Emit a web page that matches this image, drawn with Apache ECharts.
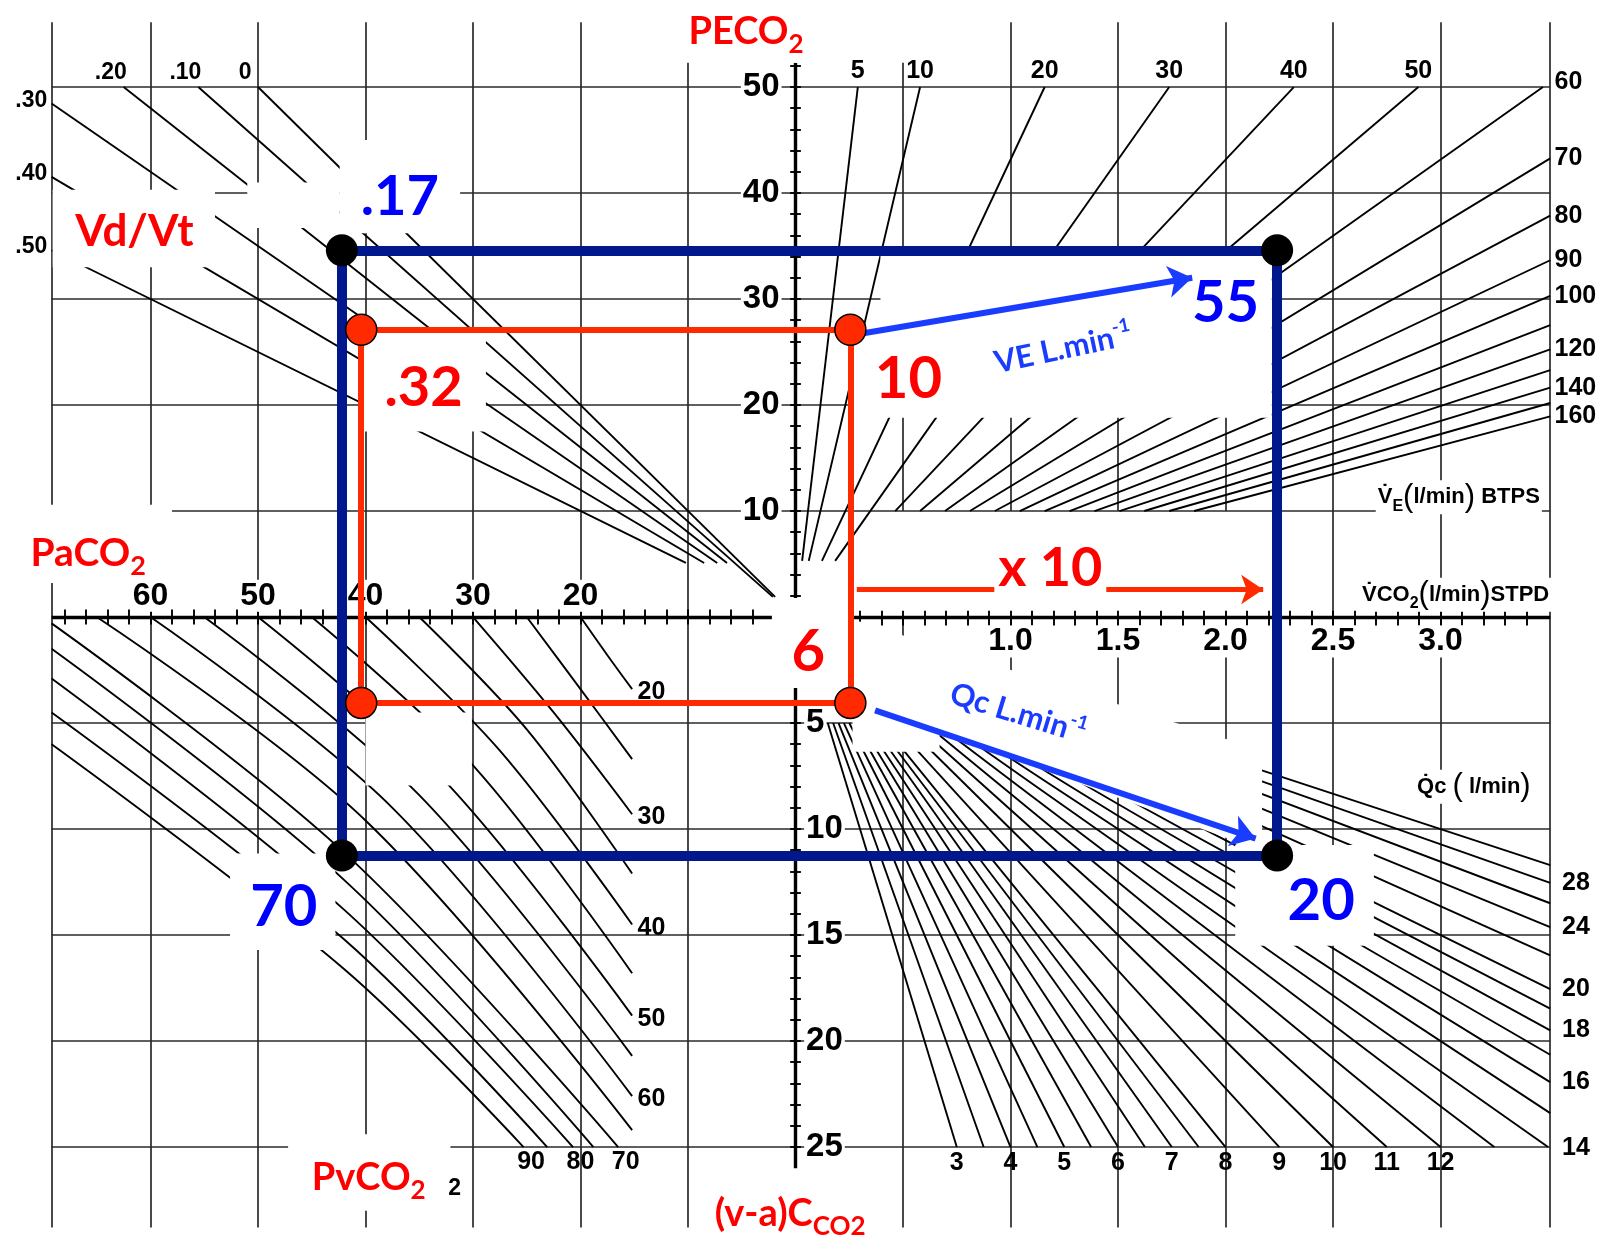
<!DOCTYPE html>
<html>
<head>
<meta charset="utf-8">
<title>CO2 nomogram</title>
<script src="https://cdn.jsdelivr.net/npm/echarts@6/dist/echarts.min.js"></script>
<style>
  html, body {margin:0; padding:0; background:#fff;}
  #nomo {width:1619px; height:1247px;}
</style>
</head>
<body>
<div id="nomo"></div>
<script>
// ---- values ----
// Vd/Vt isopleths (upper left)
var vdvtValues = [0, 0.1, 0.2, 0.3, 0.4, 0.5];
var vdvtLabels = ['0', '.10', '.20', '.30', '.40', '.50'];
// VE isopleths, l/min BTPS (upper right)
var veValues = [5, 10, 20, 30, 40, 50, 60, 70, 80, 90, 100, 110, 120, 130, 140, 150, 160];
var veLabelled = [5, 10, 20, 30, 40, 50, 60, 70, 80, 90, 100, 120, 140, 160];
// Qc isopleths, l/min (lower right)
var qcValues = [3, 3.5, 4, 4.5, 5, 5.5, 6, 6.5, 7, 7.5, 8, 9, 10, 11, 12, 13, 14, 15, 16, 17, 18, 19, 20, 22, 24, 26, 28, 30];
var qcLabelled = [3, 4, 5, 6, 7, 8, 9, 10, 11, 12, 14, 16, 18, 20, 24, 28];
// PvCO2 curves (lower left), points as [PaCO2, (v-a)CCO2]
var pvco2Values = [20, 25, 30, 35, 40, 45, 50, 55, 60, 65, 70, 75, 80, 85, 90];
var pvco2Curves = [
  [[20, 0], [17.5, 1.8], [15.2, 3.4]],
  [[25, 0], [20, 3.4], [15.2, 6.7]],
  [[30, 0], [22.5, 4.5], [15.2, 9.3]],
  [[35, 0], [25, 5.3], [15.2, 12.1]],
  [[40, 0], [27.5, 6.3], [15.2, 14.5]],
  [[45, 0], [30, 7.0], [15.2, 16.8]],
  [[50, 0], [32.5, 7.8], [15.2, 18.8]],
  [[55, 0], [35, 8.4], [15.2, 20.7]],
  [[60, 0], [37.5, 9.0], [15.2, 22.6]],
  [[65, 0], [40, 9.6], [15.2, 24.2]],
  [[69.2, 0.3], [42, 11.1], [16.5, 25]],
  [[69.2, 1.5], [42, 12.4], [18.8, 25]],
  [[69.2, 2.9], [42, 13.8], [20.7, 25]],
  [[69.2, 4.5], [42, 15.2], [23.1, 25]],
  [[69.2, 6.0], [42, 16.6], [25.3, 25]]
];
var pvco2Labelled = [20, 30, 40, 50, 60, 70, 80, 90];

// scale labels on the central axes
var peco2Ticks = [10, 20, 30, 40, 50];
var paco2Ticks = [20, 30, 40, 50, 60];
var vco2Ticks = [1.0, 1.5, 2.0, 2.5, 3.0];
var cvaTicks = [5, 10, 15, 20, 25];

// background grid
var gridPaCO2 = [10, 20, 30, 40, 50, 60];
var gridVCO2 = [0.5, 1.0, 1.5, 2.0, 2.5, 3.0];
var gridPECO2 = [10, 20, 30, 40, 50];
var gridCva = [5, 10, 15, 20, 25];

// the two worked cases drawn on top: [blue, red]
var exPaCO2 = [42.2, 40.4];
var exPECO2 = [34.6, 27.1];
var exVCO2 = [2.24, 0.255];
var exCva = [11.25, 4.05];
var exVdVt = ['.17', '.32'];
var exVE = ['55', '10'];
var exQc = ['20', '6'];
var exPvCO2 = ['70'];

// ---- quadrant scales -> one cartesian plane ----
function px(p) { return -p; }       // PaCO2 runs to the left
function vx(v) { return v * 20; }   // VCO2 runs to the right
function py(p) { return p; }        // PECO2 runs up
function cy(c) { return -2 * c; }   // (v-a)CCO2 runs down

var FRAME = {left: -69.2, right: 70.2, top: 56.1, bottom: -57.6, axisTop: 52.3, axisBottom: -52};
var VMAX = FRAME.right / 20;

// grid lines
var gridSegs = [];
function gseg(a, b) { gridSegs.push({coords: [a, b]}); }
gridPaCO2.forEach(function (p) { gseg([px(p), FRAME.top], [px(p), FRAME.bottom]); });
gseg([FRAME.left, FRAME.top], [FRAME.left, FRAME.bottom]);
gseg([FRAME.right, FRAME.top], [FRAME.right, FRAME.bottom]);
gridVCO2.forEach(function (v) {
  gseg([vx(v), v <= 2 ? py(10) : 0], [vx(v), FRAME.top]);
  gseg([vx(v), 0], [vx(v), FRAME.bottom]);
});
gridPECO2.forEach(function (p) { gseg([FRAME.left, py(p)], [FRAME.right, py(p)]); });
gridCva.forEach(function (c) { gseg([FRAME.left, cy(c)], [FRAME.right, cy(c)]); });

// straight isopleths
var isoSegs = [];
vdvtValues.forEach(function (d) {
  var k = 1 - d;                       // PECO2 = (1 - Vd/Vt) PaCO2
  var pOut = Math.min(50 / k, -FRAME.left);
  var peIn = d < 0.15 ? 1.9 : 5.1;
  isoSegs.push({coords: [[px(pOut), py(k * pOut)], [px(peIn / k), py(peIn)]]});
});
veValues.forEach(function (ve) {
  var vTop = Math.min(50 * ve / 863, VMAX);   // PECO2 = 863 VCO2 / VE
  var peIn = ve <= 30 ? 5.3 : 10;
  isoSegs.push({coords: [[vx(vTop), py(863 * vTop / ve)], [vx(peIn * ve / 863), py(peIn)]]});
});
qcValues.forEach(function (q) {
  var vEnd = Math.min(q * 25 / 100, VMAX);    // VCO2 = Qc (v-a)C / 100
  isoSegs.push({coords: [[vx(q * 5 / 100), cy(5)], [vx(vEnd), cy(vEnd * 100 / q)]]});
});

// central axes and their ticks
var axisSegs = [
  {coords: [[0, FRAME.axisTop], [0, FRAME.axisBottom]]},
  {coords: [[FRAME.left, 0], [FRAME.right, 0]]}
];
var tickSegs = [];
for (var t = 2; t <= 68; t += 2) {
  tickSegs.push({coords: [[-t, -0.7], [-t, 0.7]]});
  tickSegs.push({coords: [[t, -0.8], [t, 0.6]]});
}
for (t = 2; t <= 52; t += 2) tickSegs.push({coords: [[-0.5, t], [0.5, t]]});
for (t = 2; t <= 50; t += 2) tickSegs.push({coords: [[-0.5, -t], [0.5, -t]]});

// white paste-over boxes of the annotated copy
function box(x1, y1, x2, y2) { return [[x1, y1], [x2, y1], [x2, y2], [x1, y2]]; }
var masks = [
  box(-13.5, 58.2, 15.3, 52.3),
  box(-42.4, 45.0, -31.2, 36.2),
  box(-69.1, 40.3, -54.0, 33.0),
  box(-51.0, 41.0, -42.4, 36.7),
  box(-40.4, 26.8, -28.8, 17.5),
  [[7.9, 34.6], [44.3, 34.6], [44.3, 18.8], [5.3, 18.8], [5.3, 27.1], [7.9, 27.1]],
  box(-74, 10.6, -58.0, 3.2),
  box(-2.2, 1.8, 5.35, -6.7),
  [[5.3, -0.2], [43.4, -12.6], [43.4, -22.1], [13.4, -10.8], [13.4, -12.7], [5.3, -12.7]],
  box(-52.6, -22.3, -42.8, -31.4),
  box(40.9, -21.5, 53.8, -31.0),
  box(-47.2, -48.8, -32.1, -56.0),
  box(-40.0, -9.0, -30.1, -15.9)
];

// ---- text ----
var INK = {color: '#000', fontFamily: 'Liberation Sans', fontWeight: 'bold', opacity: 1};
function txt(x, y, text, style) {
  return {value: [x, y], label: Object.assign({show: true, position: 'inside', formatter: text}, style)};
}
function st(extra) { return Object.assign({}, INK, extra); }
var WHITE = {backgroundColor: '#fff', padding: [0, 2]};

var inkLabels = [];
vdvtValues.forEach(function (d, i) {
  var k = 1 - d;
  if (50 / k <= -FRAME.left) inkLabels.push(txt(px(50 / k) - 1.2, 51.4, vdvtLabels[i], st({fontSize: 23})));
  else inkLabels.push(txt(-69.6, py(k * -FRAME.left) + 0.3, vdvtLabels[i], st({fontSize: 23, align: 'right'})));
});
peco2Ticks.forEach(function (p) { inkLabels.push(txt(-1.3, py(p), String(p), st(Object.assign({fontSize: 33, align: 'right'}, WHITE)))); });
veLabelled.forEach(function (ve) {
  if (ve <= 50) inkLabels.push(txt(vx(50 * ve / 863), 51.5, String(ve), st({fontSize: 25})));
  else inkLabels.push(txt(70.6, py(863 * VMAX / ve), String(ve), st({fontSize: 25, align: 'left'})));
});
paco2Ticks.forEach(function (p) { inkLabels.push(txt(px(p), 2.0, String(p), st(Object.assign({fontSize: 32}, WHITE)))); });
vco2Ticks.forEach(function (v) { inkLabels.push(txt(vx(v), -2.3, v.toFixed(1), st(Object.assign({fontSize: 32}, WHITE)))); });
cvaTicks.forEach(function (c) { inkLabels.push(txt(0.8, cy(c), String(c), st(Object.assign({fontSize: 33, align: 'left'}, WHITE)))); });
qcLabelled.forEach(function (q) {
  if (q <= 12) inkLabels.push(txt(vx(q / 4), -51.5, String(q), st({fontSize: 25})));
  else inkLabels.push(txt(71.3, cy(VMAX * 100 / q), String(q), st({fontSize: 25, align: 'left'})));
});
pvco2Labelled.forEach(function (pv) {
  var end = pvco2Curves[pvco2Values.indexOf(pv)][2];
  if (end[1] < 25) inkLabels.push(txt(px(end[0]) + 0.5, cy(end[1]) - 0.3, String(pv), st({fontSize: 25, align: 'left'})));
  else inkLabels.push(txt(px(end[0]) + 0.7, -51.4, String(pv), st({fontSize: 25})));
});
inkLabels.push(txt(-31.7, -53.9, '2', st({fontSize: 23})));

var inkRich = {
  m: {fontFamily: 'Liberation Sans', fontWeight: 'bold', color: '#000', fontSize: 22, lineHeight: 34},
  s: {fontFamily: 'Liberation Sans', fontWeight: 'bold', color: '#000', fontSize: 16, lineHeight: 16, verticalAlign: 'bottom'},
  p: {fontFamily: 'Liberation Sans', fontWeight: 'normal', color: '#000', fontSize: 31, lineHeight: 34}
};
function inkTitle(x, y, text) {
  return {value: [x, y], label: {show: true, position: 'inside', formatter: text, rich: inkRich,
    backgroundColor: '#fff', padding: [0, 2], opacity: 1}};
}
inkLabels.push(inkTitle(61.7, 11.3, '{m|V\u0307}{s|E}{p|(}{m|l/min}{p|)}{m| BTPS}'));
inkLabels.push(inkTitle(61.4, 2.1, '{m|V\u0307CO}{s|2}{p|(}{m|l/min}{p|)}{m|STPD}'));
inkLabels.push(inkTitle(63.1, -16.0, '{m|Q\u0307c }{p|(}{m| l/min}{p|)}'));

// red / blue annotations
var RED = '#ff0000', BLUE = '#0000ff', ARROW_BLUE = '#1a3cff';
function note(x, y, text, color, size, extra) {
  return {value: [x, y], label: Object.assign({show: true, position: 'inside', formatter: text, opacity: 1,
    color: color, fontFamily: 'Lato', fontWeight: 'bold', fontSize: size}, extra || {})};
}
function subRich(color, size, sub) {
  return {
    m: {color: color, fontFamily: 'Lato', fontWeight: 'bold', fontSize: size, lineHeight: size + 14},
    s: {color: color, fontFamily: 'Lato', fontWeight: 'bold', fontSize: sub, lineHeight: sub, verticalAlign: 'bottom'}
  };
}
function supRich(color, size) {
  return {
    m: {color: color, fontFamily: 'Lato', fontWeight: 'bold', fontSize: size, lineHeight: size + 8},
    p: {color: color, fontFamily: 'Lato', fontWeight: 'bold', fontSize: 19, lineHeight: 19, verticalAlign: 'top'}
  };
}
var notes = [
  note(-4.6, 55.2, '{m|PECO}{s|2}', RED, 38, {rich: subRich(RED, 38, 26)}),
  note(-36.8, 39.6, exVdVt[0], BLUE, 56),
  note(-61.5, 36.3, 'Vd/Vt', RED, 44),
  note(-34.6, 21.6, exVdVt[1], RED, 56),
  note(10.5, 22.4, exVE[1], RED, 58),
  note(40.0, 29.6, exVE[0], BLUE, 58),
  note(24.9, 25.3, '{m|VE L.min}{p|-1}', BLUE, 31, {rich: supRich(ARROW_BLUE, 31), rotate: 12}),
  note(-65.8, 6.0, '{m|PaCO}{s|2}', RED, 39, {rich: subRich(RED, 39, 27)}),
  note(23.7, 4.6, 'x 10', RED, 54, {backgroundColor: '#fff', padding: [0, 4]}),
  note(1.2, -3.3, exQc[1], RED, 58),
  note(20.7, -9.1, '{m|Qc L.min}{p|-1}', BLUE, 31, {rich: supRich(ARROW_BLUE, 31), rotate: -17}),
  note(-47.6, -27.4, exPvCO2[0], BLUE, 58),
  note(48.9, -26.8, exQc[0], BLUE, 58),
  note(-39.7, -52.9, '{m|PvCO}{s|2}', RED, 38, {rich: subRich(RED, 38, 26)}),
  note(-0.5, -56.3, '{m|(v-a)C}{s|CO2}', RED, 38, {rich: subRich(RED, 38, 26)})
];

// rectangles of the two cases
function caseRect(i) {
  var l = px(exPaCO2[i]), t = py(exPECO2[i]), r = vx(exVCO2[i]), b = cy(exCva[i]);
  return [[l, t], [r, t], [r, b], [l, b]];
}
function rectSegs(c) {
  return [0, 1, 2, 3].map(function (k) { return {coords: [c[k], c[(k + 1) % 4]]}; });
}
var blueCorners = caseRect(0), redCorners = caseRect(1);
var HIDDEN = {color: 'rgba(0,0,0,0)', opacity: 1};

var option = {
  animation: false,
  backgroundColor: '#fff',
  grid: {left: 0, right: 0, top: 0, bottom: 0},
  xAxis: {type: 'value', min: -74, max: 76.6, show: false},
  yAxis: {type: 'value', min: -59.43, max: 58.21, show: false},
  series: [
    {type: 'lines', coordinateSystem: 'cartesian2d', z: 1, silent: true, data: gridSegs,
      lineStyle: {color: '#2a2a2a', width: 1.7, opacity: 1}},
    {type: 'lines', coordinateSystem: 'cartesian2d', z: 2, silent: true, data: isoSegs,
      lineStyle: {color: '#000', width: 1.9, opacity: 1}}
  ].concat(pvco2Curves.map(function (c) {
    return {type: 'line', z: 2, silent: true, smooth: 0.35, symbol: 'none',
      data: c.map(function (p) { return [px(p[0]), cy(p[1])]; }),
      lineStyle: {color: '#000', width: 1.9, opacity: 1}};
  })).concat([
    {type: 'lines', coordinateSystem: 'cartesian2d', z: 3, silent: true, data: axisSegs,
      lineStyle: {color: '#000', width: 3.4, opacity: 1}},
    {type: 'lines', coordinateSystem: 'cartesian2d', z: 3, silent: true, data: tickSegs,
      lineStyle: {color: '#000', width: 1.9, opacity: 1}},
    {type: 'custom', z: 4, silent: true,
      data: masks.map(function (m) { return m[0]; }),
      renderItem: function (params, api) {
        var poly = masks[params.dataIndex];
        return {type: 'polygon', shape: {points: poly.map(function (p) { return api.coord(p); })},
          style: {fill: '#fff'}};
      }},
    {type: 'scatter', z: 5, silent: true, symbolSize: 1, itemStyle: HIDDEN, data: inkLabels},
    {type: 'lines', coordinateSystem: 'cartesian2d', z: 6, silent: true, data: rectSegs(blueCorners),
      lineStyle: {color: '#00188c', width: 10, opacity: 1}},
    {type: 'lines', coordinateSystem: 'cartesian2d', z: 6, silent: true, data: rectSegs(redCorners),
      lineStyle: {color: '#ff2a00', width: 6, opacity: 1}},
    {type: 'lines', coordinateSystem: 'cartesian2d', z: 7, silent: true,
      symbol: ['none', 'arrow'], symbolSize: 24,
      data: [{coords: [[5.9, 26.7], [36.9, 32.0]]}, {coords: [[7.4, -8.8], [42.8, -20.9]]}],
      lineStyle: {color: ARROW_BLUE, width: 6, opacity: 1}},
    {type: 'lines', coordinateSystem: 'cartesian2d', z: 7, silent: true,
      symbol: ['none', 'arrow'], symbolSize: 22,
      data: [{coords: [[5.7, 2.6], [43.5, 2.6]]}],
      lineStyle: {color: '#ff2a00', width: 5, opacity: 1}},
    {type: 'scatter', z: 8, silent: true, symbolSize: 32, data: blueCorners,
      itemStyle: {color: '#000', opacity: 1}},
    {type: 'scatter', z: 8, silent: true, symbolSize: 31, data: redCorners,
      itemStyle: {color: '#ff2a00', borderColor: '#000', borderWidth: 1.5, opacity: 1}},
    {type: 'scatter', z: 9, silent: true, symbolSize: 1, itemStyle: HIDDEN, data: notes}
  ])
};

var chart = echarts.init(document.getElementById('nomo'));
chart.setOption(option);
window.onresize = function () { chart.resize(); };
</script>
</body>
</html>
